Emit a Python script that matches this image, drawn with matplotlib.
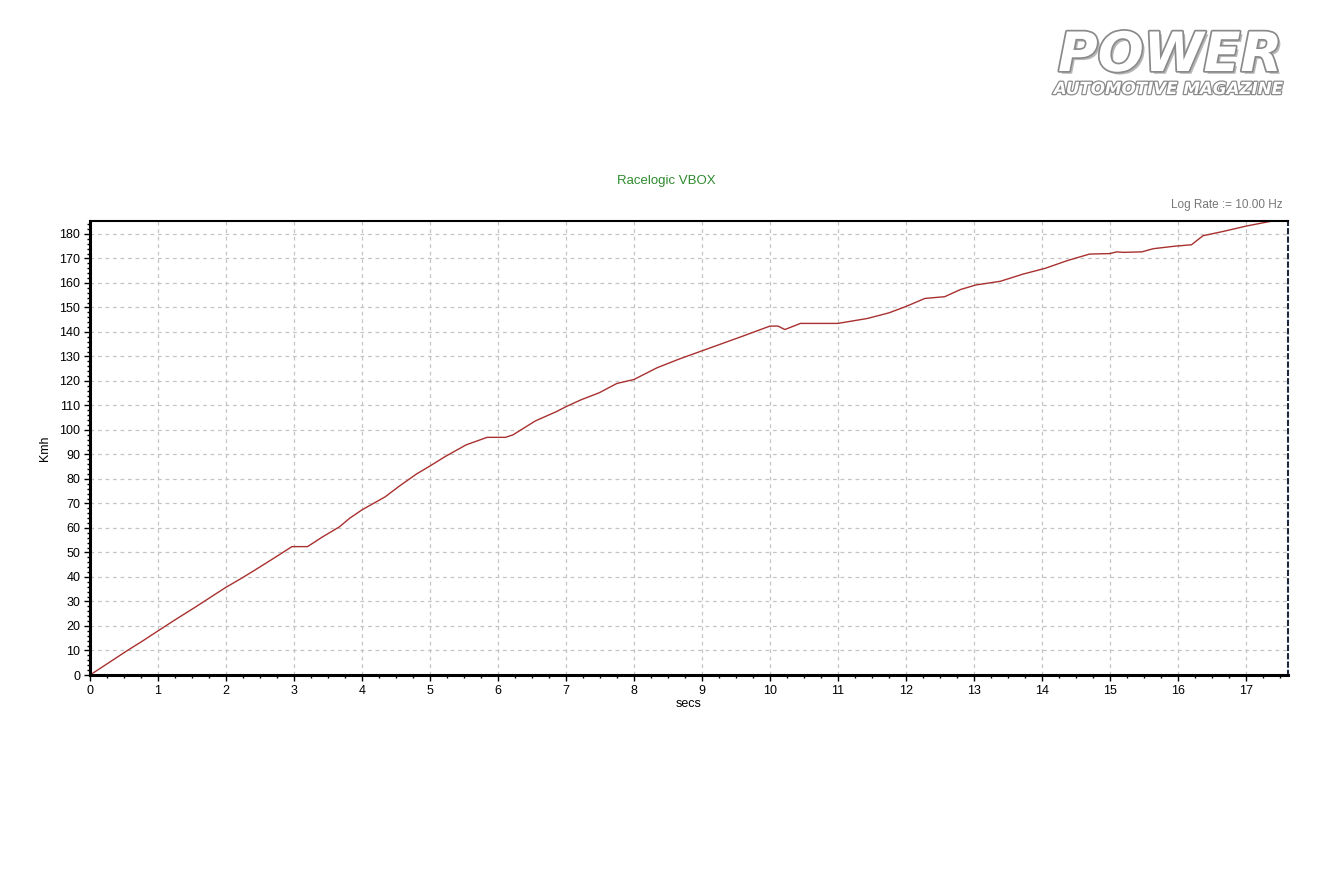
"""Racelogic VBOX speed trace, 0-185 km/h."""

import matplotlib
matplotlib.use("Agg")
import matplotlib.pyplot as plt
import matplotlib.patheffects as pe
from matplotlib.ticker import MultipleLocator

plt.rcParams["font.family"] = ["Liberation Sans", "DejaVu Sans"]

# speed trace (seconds, km/h)
TIME = [0.0, 0.27, 0.55, 0.78, 1.0, 1.25, 1.56, 1.81, 2.0, 2.23, 2.43, 2.74,
        2.97, 3.2, 3.41, 3.67, 3.82, 4.0, 4.34, 4.55, 4.8, 5.0, 5.22, 5.53,
        5.84, 6.11, 6.22, 6.55, 6.86, 7.0, 7.22, 7.49, 7.75, 8.0, 8.34, 8.67,
        9.0, 9.59, 10.0, 10.12, 10.22, 10.45, 11.0, 11.43, 11.75, 12.0, 12.28,
        12.57, 12.8, 13.03, 13.39, 13.72, 14.05, 14.37, 14.7, 15.0, 15.1,
        15.2, 15.47, 15.64, 15.95, 16.2, 16.37, 16.66, 17.0, 17.39, 17.55]
SPEED = [0.0, 4.9, 10.0, 14.0, 18.0, 22.5, 27.9, 32.4, 35.8, 39.5, 42.9, 48.3,
         52.4, 52.4, 56.2, 60.5, 64.0, 67.4, 72.7, 77.1, 82.0, 85.3, 89.1, 93.9,
         97.0, 97.0, 98.0, 103.7, 107.5, 109.5, 112.3, 115.2, 119.0, 120.6,
         125.4, 129.0, 132.3, 138.2, 142.4, 142.4, 141.0, 143.5, 143.5, 145.5,
         147.8, 150.4, 153.7, 154.4, 157.3, 159.2, 160.7, 163.6, 166.0, 169.1,
         171.8, 172.0, 172.7, 172.5, 172.7, 174.0, 175.0, 175.6, 179.3, 181.0,
         183.2, 185.3, 186.0]
X_TICKS = list(range(0, 18))
Y_TICKS = list(range(0, 190, 10))

fig = plt.figure(figsize=(13.4, 8.92), dpi=100)
ax = fig.add_axes([90 / 1340, 1 - 675 / 892, 1198 / 1340, 454 / 892])

ax.plot(TIME, SPEED, color="#a8302f", lw=1.0)
ax.set_xlim(0, 17.62)
ax.set_ylim(0, 185.3)
ax.set_xticks(X_TICKS)
ax.set_yticks(Y_TICKS)
ax.xaxis.set_minor_locator(MultipleLocator(0.25))
ax.yaxis.set_minor_locator(MultipleLocator(2))
ax.tick_params(which="major", length=4, width=1, labelsize=9, pad=3)
ax.tick_params(which="minor", length=2, width=1)
ax.grid(True, which="major", color="#c4c4c4", ls=(0, (3, 3)), lw=0.9)

for side in ("left", "bottom"):
    ax.spines[side].set_linewidth(2.2)
ax.spines["top"].set_linewidth(1.5)
ax.spines["right"].set_linestyle((0, (2, 2)))
ax.spines["right"].set_color("#1a2a3a")
ax.spines["right"].set_linewidth(1.5)

ax.set_xlabel("secs", fontsize=9, labelpad=1)
ax.set_ylabel("Kmh", fontsize=9, labelpad=6)

fig.text(666 / 1340, 1 - 181 / 892, "Racelogic VBOX", color="#2e8b2e",
         fontsize=9.5, ha="center", va="center")
fig.text(1283 / 1340, 1 - 205 / 892, "Log Rate := 10.00 Hz", color="#777777",
         fontsize=8.5, ha="right", va="center")

# magazine logo, top right
fig.text(1170 / 1340, 1 - 56 / 892, "POWER", fontsize=39, style="italic",
         fontweight="bold", color="white", ha="center", va="center",
         family=["DejaVu Sans"],
         path_effects=[pe.SimplePatchShadow(offset=(2, -2), alpha=0.4),
                       pe.withStroke(linewidth=2.5, foreground="#8a8a8a")])
fig.text(1168 / 1340, 1 - 89 / 892, "AUTOMOTIVE MAGAZINE", fontsize=12,
         style="italic", fontweight="bold", color="white", ha="center",
         va="center", family=["DejaVu Sans"],
         path_effects=[pe.withStroke(linewidth=1.8, foreground="#8a8a8a")])

fig.savefig("out.png", dpi=100)
